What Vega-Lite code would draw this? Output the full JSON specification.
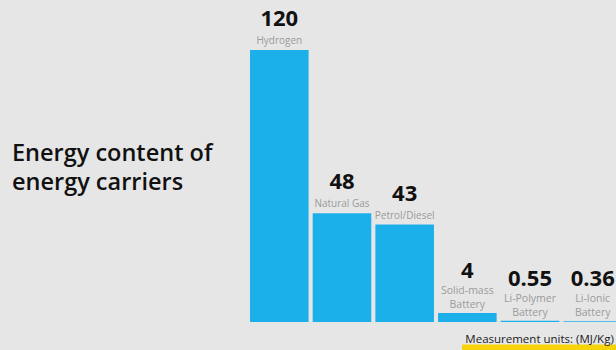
{
  "$schema": "https://vega.github.io/schema/vega-lite/v6.json",
  "width": 366,
  "height": 272,
  "autosize": {"type": "none"},
  "padding": {"left": 250, "top": 50, "right": 0, "bottom": 28},
  "background": "#e6e6e6",
  "title": {
    "text": ["Energy content of", "energy carriers"],
    "orient": "top",
    "anchor": "start",
    "frame": "group",
    "font": "Open Sans",
    "fontSize": 23.5,
    "fontWeight": 600,
    "color": "#111111",
    "lineHeight": 29,
    "dx": -238,
    "dy": 190
  },
  "config": {"view": {"stroke": null}},
  "data": {
    "values": [
      {"carrier": "Hydrogen", "label": "Hydrogen", "mj": 120},
      {"carrier": "Natural Gas", "label": "Natural Gas", "mj": 48},
      {"carrier": "Petrol/Diesel", "label": "Petrol/Diesel", "mj": 43},
      {"carrier": "Solid-mass Battery", "label": "Solid-mass\nBattery", "mj": 4},
      {"carrier": "Li-Polymer Battery", "label": "Li-Polymer\nBattery", "mj": 0.55},
      {"carrier": "Li-Ionic Battery", "label": "Li-Ionic\nBattery", "mj": 0.36}
    ]
  },
  "resolve": {"scale": {"x": "shared", "y": "shared"}},
  "layer": [
    {
      "mark": {"type": "bar", "color": "#1cb0eb"},
      "encoding": {
        "x": {"field": "carrier", "type": "nominal", "sort": null, "axis": null,
              "scale": {"range": [0, 372], "paddingInner": 0.065, "paddingOuter": 0}},
        "y": {"field": "mj", "type": "quantitative", "axis": null,
              "scale": {"domain": [0, 120], "nice": false}}
      }
    },
    {
      "transform": [{"filter": "datum.mj > 10"}],
      "mark": {"type": "text", "baseline": "bottom", "dy": -4, "font": "Open Sans", "fontSize": 10,
               "color": "#9b9b9b", "lineBreak": "\n", "lineHeight": 14},
      "encoding": {
        "x": {"field": "carrier", "type": "nominal", "sort": null},
        "y": {"field": "mj", "type": "quantitative"},
        "text": {"field": "label"}
      }
    },
    {
      "transform": [{"filter": "datum.mj <= 10"}],
      "mark": {"type": "text", "baseline": "bottom", "dy": -17, "font": "Open Sans", "fontSize": 10.5,
               "color": "#9b9b9b", "lineBreak": "\n", "lineHeight": 14},
      "encoding": {
        "x": {"field": "carrier", "type": "nominal", "sort": null},
        "y": {"field": "mj", "type": "quantitative"},
        "text": {"field": "label"}
      }
    },
    {
      "transform": [{"filter": "datum.mj > 10"}],
      "mark": {"type": "text", "baseline": "alphabetic", "dy": -24, "font": "Open Sans", "fontSize": 22,
               "fontWeight": "bold", "color": "#111111"},
      "encoding": {
        "x": {"field": "carrier", "type": "nominal", "sort": null},
        "y": {"field": "mj", "type": "quantitative"},
        "text": {"field": "mj", "type": "quantitative"}
      }
    },
    {
      "transform": [{"filter": "datum.mj <= 10"}],
      "mark": {"type": "text", "baseline": "alphabetic", "dy": -35, "font": "Open Sans", "fontSize": 22,
               "fontWeight": "bold", "color": "#111111"},
      "encoding": {
        "x": {"field": "carrier", "type": "nominal", "sort": null},
        "y": {"field": "mj", "type": "quantitative"},
        "text": {"field": "mj", "type": "quantitative"}
      }
    },
    {
      "data": {"values": [{"note": "Measurement units: (MJ/Kg)"}]},
      "mark": {"type": "rule", "color": "#f7d40a", "strokeWidth": 7, "strokeCap": "butt"},
      "encoding": {
        "x": {"datum": "Solid-mass Battery", "bandPosition": 0.41},
        "x2": {"datum": "Li-Ionic Battery", "bandPosition": 1},
        "y": {"datum": -11.5}
      }
    },
    {
      "data": {"values": [{"note": "Measurement units: (MJ/Kg)"}]},
      "mark": {"type": "text", "align": "right", "baseline": "alphabetic", "font": "Open Sans",
               "fontSize": 11.5, "color": "#1a1a1a"},
      "encoding": {
        "x": {"datum": "Li-Ionic Battery", "bandPosition": 0.86},
        "y": {"datum": -9.3},
        "text": {"field": "note"}
      }
    }
  ]
}
